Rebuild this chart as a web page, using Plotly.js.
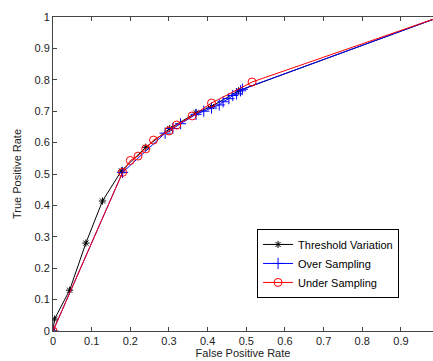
<!DOCTYPE html>
<html><head><meta charset="utf-8">
<script src="https://cdn.plot.ly/plotly-3.0.1.min.js"></script>
<style>html,body{margin:0;padding:0;background:#fff}#c{width:433px;height:361px}</style>
</head><body><div id="c"></div>
<script>
var thrX = [0, 0.004, 0.043, 0.085, 0.128, 0.177, 0.24, 0.302, 0.37, 0.41, 0.48, 1];
var thrY = [0, 0.038, 0.13, 0.28, 0.414, 0.51, 0.585, 0.645, 0.695, 0.715, 0.765, 1];
var overX = [0, 0.18, 0.29, 0.31, 0.33, 0.37, 0.39, 0.41, 0.43, 0.44, 0.455, 0.465, 0.475, 0.485, 0.49, 1];
var overY = [0, 0.505, 0.63, 0.645, 0.66, 0.69, 0.70, 0.71, 0.72, 0.73, 0.74, 0.75, 0.755, 0.765, 0.77, 1];
var underX = [0, 0.18, 0.2, 0.22, 0.24, 0.26, 0.3, 0.32, 0.36, 0.41, 0.515, 1];
var underY = [0, 0.505, 0.543, 0.557, 0.58, 0.608, 0.637, 0.656, 0.685, 0.726, 0.793, 1];
var names = ["Threshold Variation", "Over Sampling", "Under Sampling"];
var xTicks = [0, 0.1, 0.2, 0.3, 0.4, 0.5, 0.6, 0.7, 0.8, 0.9];
var yTicks = [0, 0.1, 0.2, 0.3, 0.4, 0.5, 0.6, 0.7, 0.8, 0.9, 1];

var traces = [
  {x: thrX, y: thrY, name: names[0], mode: 'lines+markers', line: {color: '#000', width: 1},
   marker: {symbol: 'asterisk-open', size: 6, color: '#000', line: {width: 1, color: '#000'}}},
  {x: overX, y: overY, name: names[1], mode: 'lines+markers', line: {color: '#0000ff', width: 1},
   marker: {symbol: 'cross-thin-open', size: 8, color: '#0000ff', line: {width: 1, color: '#0000ff'}}},
  {x: underX, y: underY, name: names[2], mode: 'lines+markers', line: {color: '#ff0000', width: 1},
   marker: {symbol: 'circle-open', size: 8, color: '#ff0000', line: {width: 1, color: '#ff0000'}}}
];
var layout = {
  width: 433, height: 361,
  margin: {l: 53, r: 0, t: 17, b: 30},
  paper_bgcolor: '#fff', plot_bgcolor: '#fff',
  font: {family: 'Liberation Sans, Arial, sans-serif', size: 11, color: '#222'},
  showlegend: true,
  legend: {x: 0.537, y: 0.325, xanchor: 'left', yanchor: 'top', bgcolor: '#fff',
    bordercolor: '#000', borderwidth: 1, font: {size: 11, color: '#000'},
    tracegroupgap: 0, itemwidth: 30},
  xaxis: {range: [0, 0.983], tickvals: xTicks, ticktext: xTicks.map(String),
    ticks: 'inside', ticklen: 4, tickcolor: '#444', showgrid: false, zeroline: false,
    showline: true, linecolor: '#444', linewidth: 1, mirror: 'ticks',
    title: {text: 'False Positive Rate', standoff: 3, font: {size: 11, color: '#222'}}},
  yaxis: {range: [0, 1], tickvals: yTicks, ticktext: yTicks.map(String),
    ticks: 'inside', ticklen: 4, tickcolor: '#444', showgrid: false, zeroline: false,
    showline: true, linecolor: '#444', linewidth: 1,
    title: {text: 'True Positive Rate', standoff: 10, font: {size: 11, color: '#222'}}}
};
Plotly.newPlot('c', traces, layout, {displayModeBar: false, staticPlot: true});
</script></body></html>
